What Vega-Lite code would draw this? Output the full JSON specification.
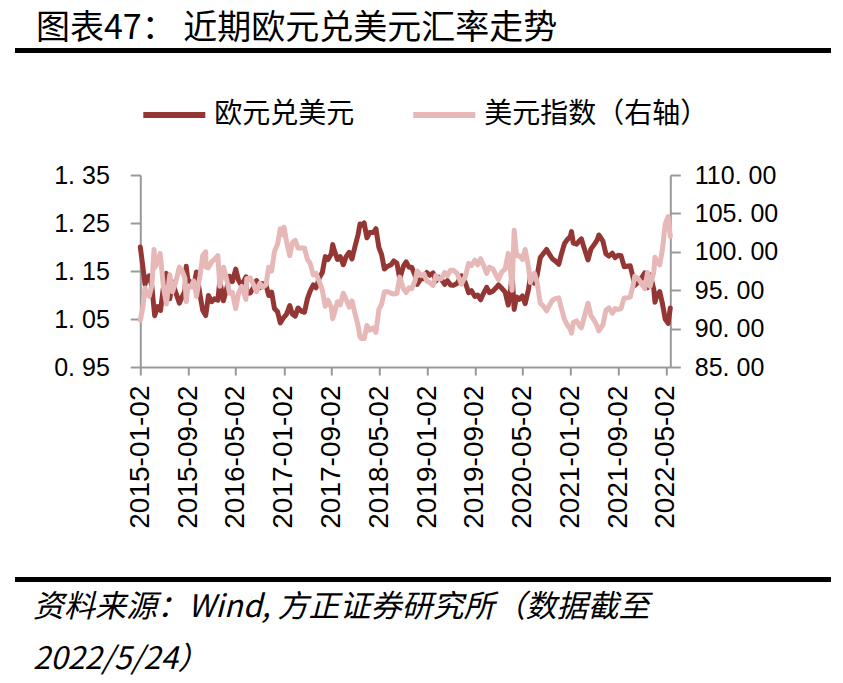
{
"$schema": "https://vega.github.io/schema/vega-lite/v6.json",
"background": "white",
"padding": {"left": 15, "top": 12, "right": 0, "bottom": 0},
"title": {"text": "图表47： 近期欧元兑美元汇率走势", "anchor": "start", "dx": 21, "fontSize": 34, "font": "Noto Sans CJK SC", "fontWeight": "normal", "color": "#000000", "offset": 2},
"spacing": 28,
"center": true,
"resolve": {"legend": {"color": "independent"}},
"datasets": {
"eur": [
{"d":"2015-01-02","v":1.200},{"d":"2015-01-16","v":1.156},{"d":"2015-01-26","v":1.122},{"d":"2015-02-02","v":1.134},{"d":"2015-02-16","v":1.140},{"d":"2015-03-02","v":1.118},{"d":"2015-03-16","v":1.057},{"d":"2015-04-01","v":1.076},{"d":"2015-04-15","v":1.068},{"d":"2015-05-01","v":1.120},{"d":"2015-05-15","v":1.145},{"d":"2015-06-01","v":1.092},{"d":"2015-06-15","v":1.127},{"d":"2015-07-01","v":1.106},{"d":"2015-07-20","v":1.083},{"d":"2015-08-03","v":1.096},{"d":"2015-08-17","v":1.108},{"d":"2015-08-24","v":1.160},{"d":"2015-09-01","v":1.131},{"d":"2015-09-15","v":1.127},{"d":"2015-10-01","v":1.118},{"d":"2015-10-15","v":1.148},{"d":"2015-11-02","v":1.101},{"d":"2015-11-16","v":1.068},{"d":"2015-12-01","v":1.057},{"d":"2015-12-15","v":1.099},{"d":"2015-12-31","v":1.086},
{"d":"2016-01-15","v":1.092},{"d":"2016-02-01","v":1.089},{"d":"2016-02-11","v":1.130},{"d":"2016-02-29","v":1.088},{"d":"2016-03-15","v":1.110},{"d":"2016-04-01","v":1.139},{"d":"2016-04-15","v":1.128},{"d":"2016-05-02","v":1.154},{"d":"2016-05-16","v":1.131},{"d":"2016-06-01","v":1.119},{"d":"2016-06-23","v":1.138},{"d":"2016-06-27","v":1.103},{"d":"2016-07-15","v":1.104},{"d":"2016-08-01","v":1.116},{"d":"2016-08-16","v":1.130},{"d":"2016-09-01","v":1.115},{"d":"2016-09-15","v":1.124},{"d":"2016-10-03","v":1.121},{"d":"2016-10-17","v":1.099},{"d":"2016-11-01","v":1.106},{"d":"2016-11-15","v":1.072},{"d":"2016-12-01","v":1.065},{"d":"2016-12-15","v":1.042},{"d":"2016-12-30","v":1.052},
{"d":"2017-01-16","v":1.060},{"d":"2017-02-01","v":1.078},{"d":"2017-02-15","v":1.060},{"d":"2017-03-01","v":1.056},{"d":"2017-03-15","v":1.073},{"d":"2017-04-03","v":1.066},{"d":"2017-04-17","v":1.064},{"d":"2017-05-02","v":1.092},{"d":"2017-05-16","v":1.108},{"d":"2017-06-01","v":1.121},{"d":"2017-06-15","v":1.115},{"d":"2017-07-03","v":1.137},{"d":"2017-07-17","v":1.147},{"d":"2017-08-01","v":1.180},{"d":"2017-08-15","v":1.174},{"d":"2017-09-01","v":1.186},{"d":"2017-09-08","v":1.205},{"d":"2017-09-15","v":1.194},{"d":"2017-10-02","v":1.174},{"d":"2017-10-16","v":1.180},{"d":"2017-11-01","v":1.163},{"d":"2017-11-15","v":1.180},{"d":"2017-12-01","v":1.189},{"d":"2017-12-15","v":1.175},{"d":"2017-12-29","v":1.199},
{"d":"2018-01-15","v":1.226},{"d":"2018-01-25","v":1.248},{"d":"2018-02-01","v":1.245},{"d":"2018-02-15","v":1.250},{"d":"2018-03-01","v":1.219},{"d":"2018-03-15","v":1.230},{"d":"2018-04-02","v":1.230},{"d":"2018-04-16","v":1.238},{"d":"2018-05-01","v":1.199},{"d":"2018-05-15","v":1.184},{"d":"2018-05-29","v":1.154},{"d":"2018-06-15","v":1.160},{"d":"2018-07-02","v":1.163},{"d":"2018-07-16","v":1.171},{"d":"2018-08-01","v":1.166},{"d":"2018-08-15","v":1.134},{"d":"2018-09-03","v":1.160},{"d":"2018-09-17","v":1.169},{"d":"2018-10-01","v":1.158},{"d":"2018-10-15","v":1.158},{"d":"2018-11-01","v":1.141},{"d":"2018-11-12","v":1.122},{"d":"2018-12-03","v":1.135},{"d":"2018-12-17","v":1.134},{"d":"2018-12-31","v":1.147},
{"d":"2019-01-15","v":1.141},{"d":"2019-02-01","v":1.146},{"d":"2019-02-15","v":1.129},{"d":"2019-03-01","v":1.137},{"d":"2019-03-15","v":1.133},{"d":"2019-04-01","v":1.122},{"d":"2019-04-15","v":1.130},{"d":"2019-05-01","v":1.121},{"d":"2019-05-15","v":1.120},{"d":"2019-06-03","v":1.124},{"d":"2019-06-25","v":1.140},{"d":"2019-07-15","v":1.126},{"d":"2019-08-01","v":1.105},{"d":"2019-08-15","v":1.109},{"d":"2019-09-02","v":1.097},{"d":"2019-09-16","v":1.100},{"d":"2019-10-01","v":1.090},{"d":"2019-10-15","v":1.103},{"d":"2019-11-01","v":1.116},{"d":"2019-11-15","v":1.105},{"d":"2019-12-02","v":1.108},{"d":"2019-12-16","v":1.114},{"d":"2019-12-31","v":1.121},
{"d":"2020-01-15","v":1.115},{"d":"2020-02-03","v":1.106},{"d":"2020-02-19","v":1.079},{"d":"2020-03-02","v":1.113},{"d":"2020-03-09","v":1.145},{"d":"2020-03-20","v":1.070},{"d":"2020-04-01","v":1.096},{"d":"2020-04-15","v":1.091},{"d":"2020-05-01","v":1.098},{"d":"2020-05-15","v":1.082},{"d":"2020-06-01","v":1.112},{"d":"2020-06-10","v":1.138},{"d":"2020-07-01","v":1.125},{"d":"2020-07-15","v":1.141},{"d":"2020-07-31","v":1.178},{"d":"2020-08-17","v":1.187},{"d":"2020-09-01","v":1.195},{"d":"2020-09-15","v":1.185},{"d":"2020-10-01","v":1.175},{"d":"2020-10-15","v":1.171},{"d":"2020-11-02","v":1.164},{"d":"2020-11-16","v":1.186},{"d":"2020-12-01","v":1.207},{"d":"2020-12-15","v":1.215},{"d":"2020-12-31","v":1.222},
{"d":"2021-01-06","v":1.232},{"d":"2021-01-15","v":1.208},{"d":"2021-02-01","v":1.206},{"d":"2021-02-15","v":1.213},{"d":"2021-02-25","v":1.217},{"d":"2021-03-15","v":1.193},{"d":"2021-03-31","v":1.173},{"d":"2021-04-15","v":1.196},{"d":"2021-05-03","v":1.206},{"d":"2021-05-17","v":1.215},{"d":"2021-05-25","v":1.225},{"d":"2021-06-15","v":1.212},{"d":"2021-06-30","v":1.186},{"d":"2021-07-15","v":1.181},{"d":"2021-08-02","v":1.187},{"d":"2021-08-16","v":1.178},{"d":"2021-09-01","v":1.183},{"d":"2021-09-15","v":1.182},{"d":"2021-10-01","v":1.159},{"d":"2021-10-15","v":1.160},{"d":"2021-11-01","v":1.161},{"d":"2021-11-15","v":1.137},{"d":"2021-11-24","v":1.120},{"d":"2021-12-15","v":1.128},{"d":"2021-12-31","v":1.137},
{"d":"2022-01-14","v":1.146},{"d":"2022-01-28","v":1.115},{"d":"2022-02-10","v":1.142},{"d":"2022-02-15","v":1.135},{"d":"2022-03-01","v":1.112},{"d":"2022-03-07","v":1.085},{"d":"2022-03-15","v":1.098},{"d":"2022-03-31","v":1.107},{"d":"2022-04-14","v":1.082},{"d":"2022-04-28","v":1.050},{"d":"2022-05-13","v":1.041},{"d":"2022-05-24","v":1.073}
],
"dxy": [
{"d":"2015-01-02","v":91.1},{"d":"2015-01-16","v":92.9},{"d":"2015-01-26","v":95.3},{"d":"2015-02-02","v":94.6},{"d":"2015-02-16","v":94.2},{"d":"2015-03-02","v":95.6},{"d":"2015-03-13","v":100.3},{"d":"2015-03-18","v":98.0},{"d":"2015-04-01","v":98.6},{"d":"2015-04-13","v":99.8},{"d":"2015-05-01","v":95.2},{"d":"2015-05-15","v":93.2},{"d":"2015-06-01","v":97.0},{"d":"2015-06-15","v":94.8},{"d":"2015-07-01","v":96.0},{"d":"2015-07-20","v":98.0},{"d":"2015-08-03","v":97.5},{"d":"2015-08-17","v":96.6},{"d":"2015-08-24","v":93.5},{"d":"2015-09-01","v":95.4},{"d":"2015-09-15","v":95.4},{"d":"2015-10-01","v":96.2},{"d":"2015-10-15","v":94.2},{"d":"2015-11-02","v":96.9},{"d":"2015-11-16","v":99.5},{"d":"2015-12-01","v":100.0},{"d":"2015-12-03","v":98.0},{"d":"2015-12-15","v":97.9},{"d":"2015-12-31","v":98.7},
{"d":"2016-01-15","v":99.0},{"d":"2016-02-01","v":99.5},{"d":"2016-02-11","v":95.5},{"d":"2016-03-01","v":98.0},{"d":"2016-03-15","v":96.6},{"d":"2016-04-01","v":94.6},{"d":"2016-04-15","v":94.7},{"d":"2016-05-02","v":92.6},{"d":"2016-05-16","v":94.6},{"d":"2016-06-01","v":95.5},{"d":"2016-06-23","v":93.8},{"d":"2016-06-27","v":96.5},{"d":"2016-07-15","v":96.6},{"d":"2016-08-01","v":95.7},{"d":"2016-08-16","v":94.8},{"d":"2016-09-01","v":95.9},{"d":"2016-09-15","v":95.4},{"d":"2016-10-03","v":95.7},{"d":"2016-10-17","v":98.0},{"d":"2016-11-01","v":97.5},{"d":"2016-11-15","v":100.0},{"d":"2016-12-01","v":101.0},{"d":"2016-12-15","v":103.0},{"d":"2016-12-30","v":102.2},
{"d":"2017-01-03","v":103.2},{"d":"2017-01-16","v":101.3},{"d":"2017-02-01","v":99.5},{"d":"2017-02-15","v":101.2},{"d":"2017-03-01","v":101.5},{"d":"2017-03-15","v":100.5},{"d":"2017-04-03","v":100.5},{"d":"2017-04-17","v":100.5},{"d":"2017-05-02","v":99.0},{"d":"2017-05-16","v":98.5},{"d":"2017-06-01","v":97.0},{"d":"2017-06-15","v":97.2},{"d":"2017-07-03","v":96.0},{"d":"2017-07-17","v":95.0},{"d":"2017-08-01","v":92.9},{"d":"2017-08-15","v":93.7},{"d":"2017-09-01","v":92.7},{"d":"2017-09-08","v":91.3},{"d":"2017-09-15","v":91.9},{"d":"2017-10-02","v":93.5},{"d":"2017-10-16","v":93.1},{"d":"2017-11-01","v":94.6},{"d":"2017-11-15","v":93.8},{"d":"2017-12-01","v":92.8},{"d":"2017-12-15","v":93.6},{"d":"2017-12-29","v":92.1},
{"d":"2018-01-15","v":90.4},{"d":"2018-01-25","v":88.9},{"d":"2018-02-01","v":88.7},{"d":"2018-02-15","v":88.7},{"d":"2018-03-01","v":90.4},{"d":"2018-03-15","v":89.8},{"d":"2018-04-02","v":90.1},{"d":"2018-04-16","v":89.5},{"d":"2018-05-01","v":92.5},{"d":"2018-05-15","v":93.2},{"d":"2018-05-29","v":94.8},{"d":"2018-06-15","v":94.8},{"d":"2018-07-02","v":94.6},{"d":"2018-07-16","v":94.5},{"d":"2018-08-01","v":94.6},{"d":"2018-08-15","v":96.7},{"d":"2018-09-03","v":95.2},{"d":"2018-09-17","v":94.7},{"d":"2018-10-01","v":95.3},{"d":"2018-10-15","v":95.2},{"d":"2018-11-01","v":96.2},{"d":"2018-11-12","v":97.5},{"d":"2018-12-03","v":96.9},{"d":"2018-12-17","v":97.1},{"d":"2018-12-31","v":96.2},
{"d":"2019-01-15","v":96.0},{"d":"2019-02-01","v":95.6},{"d":"2019-02-15","v":96.9},{"d":"2019-03-01","v":96.5},{"d":"2019-03-15","v":96.5},{"d":"2019-04-01","v":97.3},{"d":"2019-04-15","v":96.9},{"d":"2019-05-01","v":97.6},{"d":"2019-05-15","v":97.6},{"d":"2019-06-03","v":97.2},{"d":"2019-06-25","v":95.8},{"d":"2019-07-15","v":96.8},{"d":"2019-08-01","v":98.5},{"d":"2019-08-15","v":98.2},{"d":"2019-09-02","v":98.9},{"d":"2019-09-16","v":98.3},{"d":"2019-10-01","v":99.1},{"d":"2019-10-15","v":98.3},{"d":"2019-11-01","v":97.2},{"d":"2019-11-15","v":98.0},{"d":"2019-12-02","v":97.8},{"d":"2019-12-16","v":97.1},{"d":"2019-12-31","v":96.4},
{"d":"2020-01-15","v":97.3},{"d":"2020-02-03","v":97.8},{"d":"2020-02-19","v":99.8},{"d":"2020-03-02","v":97.4},{"d":"2020-03-09","v":95.0},{"d":"2020-03-20","v":102.8},{"d":"2020-04-01","v":99.5},{"d":"2020-04-15","v":99.5},{"d":"2020-05-01","v":99.0},{"d":"2020-05-15","v":100.3},{"d":"2020-06-01","v":98.0},{"d":"2020-06-10","v":96.0},{"d":"2020-07-01","v":97.2},{"d":"2020-07-15","v":96.0},{"d":"2020-07-31","v":93.3},{"d":"2020-08-17","v":92.9},{"d":"2020-09-01","v":92.3},{"d":"2020-09-15","v":93.0},{"d":"2020-10-01","v":93.7},{"d":"2020-10-15","v":93.9},{"d":"2020-11-02","v":94.0},{"d":"2020-11-16","v":92.6},{"d":"2020-12-01","v":91.2},{"d":"2020-12-15","v":90.5},{"d":"2020-12-31","v":89.9},
{"d":"2021-01-06","v":89.4},{"d":"2021-01-15","v":90.8},{"d":"2021-02-01","v":91.0},{"d":"2021-02-15","v":90.4},{"d":"2021-02-25","v":90.1},{"d":"2021-03-15","v":91.8},{"d":"2021-03-31","v":93.3},{"d":"2021-04-15","v":91.7},{"d":"2021-05-03","v":91.0},{"d":"2021-05-17","v":90.3},{"d":"2021-05-25","v":89.7},{"d":"2021-06-15","v":90.5},{"d":"2021-06-30","v":92.4},{"d":"2021-07-15","v":92.7},{"d":"2021-08-02","v":92.0},{"d":"2021-08-16","v":92.6},{"d":"2021-09-01","v":92.5},{"d":"2021-09-15","v":92.6},{"d":"2021-10-01","v":94.0},{"d":"2021-10-15","v":94.0},{"d":"2021-11-01","v":94.1},{"d":"2021-11-15","v":95.6},{"d":"2021-11-24","v":96.8},{"d":"2021-12-15","v":96.4},{"d":"2021-12-31","v":95.7},
{"d":"2022-01-14","v":95.2},{"d":"2022-01-28","v":97.3},{"d":"2022-02-10","v":95.5},{"d":"2022-02-15","v":96.0},{"d":"2022-03-01","v":97.4},{"d":"2022-03-07","v":99.3},{"d":"2022-03-15","v":98.8},{"d":"2022-03-31","v":98.3},{"d":"2022-04-14","v":100.3},{"d":"2022-04-28","v":103.6},{"d":"2022-05-13","v":104.6},{"d":"2022-05-24","v":102.0}
]
},
"vconcat": [
{
"width": 812, "height": 1,
"data": {"values": []},
"mark": "rule",
"encoding": {"y": {"datum": 0, "type": "quantitative", "scale": {"domain": [0, 1]}, "axis": {"orient": "right", "title": " ", "titleFontSize": 10, "titlePadding": 60, "labels": false, "ticks": false, "domain": false, "grid": false}}},
"view": {"stroke": "#000000", "strokeWidth": 4}
},
{
"width": 530, "height": 192,
"view": {"stroke": null},
"layer": [
{
"data": {"name": "eur"},
"mark": {"type": "line", "strokeWidth": 5, "strokeJoin": "round", "strokeCap": "round"},
"encoding": {
"x": {"field": "d", "type": "temporal",
"scale": {"type": "utc", "domain": [{"year": 2015, "month": 1, "date": 2, "utc": true}, {"year": 2022, "month": 5, "date": 24, "utc": true}]},
"axis": {"title": " ", "titleFontSize": 10, "titlePadding": 10, "grid": false,
"values": [{"year":2015,"month":1,"date":2,"utc":true},{"year":2015,"month":9,"date":2,"utc":true},{"year":2016,"month":5,"date":2,"utc":true},{"year":2017,"month":1,"date":2,"utc":true},{"year":2017,"month":9,"date":2,"utc":true},{"year":2018,"month":5,"date":2,"utc":true},{"year":2019,"month":1,"date":2,"utc":true},{"year":2019,"month":9,"date":2,"utc":true},{"year":2020,"month":5,"date":2,"utc":true},{"year":2021,"month":1,"date":2,"utc":true},{"year":2021,"month":9,"date":2,"utc":true},{"year":2022,"month":5,"date":2,"utc":true}],
"labelExpr": "utcFormat(datum.value, '%Y-%m-%d')",
"labelAngle": 270, "labelAlign": "right", "labelBaseline": "middle",
"labelFont": "Liberation Sans", "labelFontSize": 28, "labelColor": "#000000",
"labelOverlap": false, "labelFlush": false, "labelPadding": 10,
"tickSize": 8, "tickWidth": 2, "tickColor": "#999999", "domainColor": "#999999", "domainWidth": 2}},
"y": {"field": "v", "type": "quantitative",
"scale": {"domain": [0.95, 1.35], "nice": false, "zero": false},
"axis": {"title": null, "grid": false, "orient": "left", "values": [0.95, 1.05, 1.15, 1.25, 1.35],
"labelExpr": "replace(format(datum.value, '.2f'), '.', '. ')",
"labelFont": "Liberation Sans", "labelFontSize": 25, "labelColor": "#000000", "labelPadding": 21,
"tickSize": 10, "tickWidth": 2, "tickColor": "#999999", "domainColor": "#999999", "domainWidth": 2}},
"color": {"datum": "欧元兑美元", "type": "nominal",
"scale": {"domain": ["欧元兑美元", "美元指数（右轴）"], "range": ["#943634", "#E6B8B7"]},
"legend": {"orient": "top", "title": null, "direction": "horizontal", "symbolType": "stroke", "symbolSize": 3844, "symbolStrokeWidth": 6, "labelFont": "Noto Sans CJK SC", "labelFontSize": 28, "labelColor": "#000000", "labelOffset": 6, "columnPadding": 46, "labelLimit": 400, "offset": 46}}
}
},
{
"data": {"name": "dxy"},
"mark": {"type": "line", "strokeWidth": 5, "strokeJoin": "round", "strokeCap": "round"},
"encoding": {
"x": {"field": "d", "type": "temporal"},
"y": {"field": "v", "type": "quantitative",
"scale": {"domain": [85, 110], "nice": false, "zero": false},
"axis": {"title": null, "grid": false, "orient": "right", "values": [85, 90, 95, 100, 105, 110],
"labelExpr": "replace(format(datum.value, '.2f'), '.', '. ')",
"labelFont": "Liberation Sans", "labelFontSize": 25, "labelColor": "#000000", "labelPadding": 14,
"tickSize": 10, "tickWidth": 2, "tickColor": "#999999", "domainColor": "#999999", "domainWidth": 2}},
"color": {"datum": "美元指数（右轴）", "type": "nominal"}
}
}
],
"resolve": {"scale": {"y": "independent"}}
},
{
"width": 812, "height": 1,
"data": {"values": []},
"mark": "rule",
"encoding": {"y": {"datum": 0, "type": "quantitative", "scale": {"domain": [0, 1]}, "axis": {"orient": "right", "title": " ", "titleFontSize": 10, "titlePadding": 60, "labels": false, "ticks": false, "domain": false, "grid": false}}},
"view": {"stroke": "#000000", "strokeWidth": 4},
"title": {"text": ["资料来源：Wind, 方正证券研究所（数据截至", "2022/5/24）"], "orient": "bottom", "anchor": "start", "dx": 16, "font": "Noto Sans CJK SC", "fontSize": 31, "fontStyle": "italic", "fontWeight": "normal", "color": "#000000", "lineHeight": 52, "offset": 13}
}
]
}
